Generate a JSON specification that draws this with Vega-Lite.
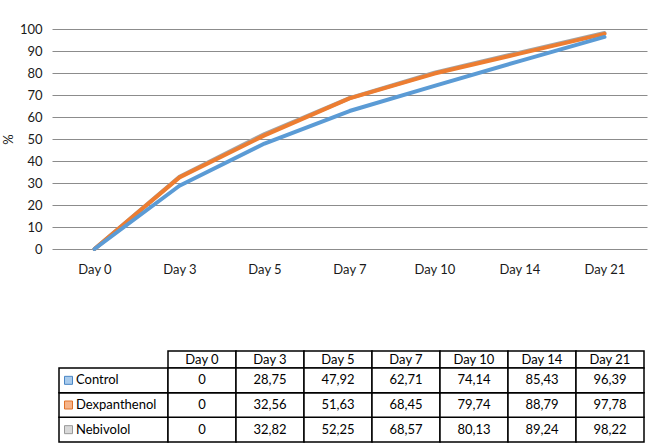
{
  "$schema": "https://vega.github.io/schema/vega-lite/v6.json",
  "padding": {"left": 2, "top": 23, "right": 5, "bottom": 2},
  "config": {
    "font": "Lato",
    "view": {"stroke": null},
    "locale": {
      "number": {"decimal": ",", "thousands": ".", "grouping": [3], "currency": ["", "€"]}
    },
    "axis": {"labelFont": "Lato", "labelFontSize": 13, "labelColor": "#1a1a1a", "titleFont": "Lato"},
    "text": {"font": "Lato", "fontSize": 13, "color": "#000"}
  },
  "datasets": {
    "vals": [
      {"series": "Nebivolol", "day": "Day 0", "value": 0},
      {"series": "Nebivolol", "day": "Day 3", "value": 32.82},
      {"series": "Nebivolol", "day": "Day 5", "value": 52.25},
      {"series": "Nebivolol", "day": "Day 7", "value": 68.57},
      {"series": "Nebivolol", "day": "Day 10", "value": 80.13},
      {"series": "Nebivolol", "day": "Day 14", "value": 89.24},
      {"series": "Nebivolol", "day": "Day 21", "value": 98.22},
      {"series": "Dexpanthenol", "day": "Day 0", "value": 0},
      {"series": "Dexpanthenol", "day": "Day 3", "value": 32.56},
      {"series": "Dexpanthenol", "day": "Day 5", "value": 51.63},
      {"series": "Dexpanthenol", "day": "Day 7", "value": 68.45},
      {"series": "Dexpanthenol", "day": "Day 10", "value": 79.74},
      {"series": "Dexpanthenol", "day": "Day 14", "value": 88.79},
      {"series": "Dexpanthenol", "day": "Day 21", "value": 97.78},
      {"series": "Control", "day": "Day 0", "value": 0},
      {"series": "Control", "day": "Day 3", "value": 28.75},
      {"series": "Control", "day": "Day 5", "value": 47.92},
      {"series": "Control", "day": "Day 7", "value": 62.71},
      {"series": "Control", "day": "Day 10", "value": 74.14},
      {"series": "Control", "day": "Day 14", "value": 85.43},
      {"series": "Control", "day": "Day 21", "value": 96.39}
    ]
  },
  "bounds": "flush",
  "spacing": 102,
  "vconcat": [
    {
      "width": 595,
      "height": 220,
      "data": {"name": "vals"},
      "mark": {"type": "line", "strokeCap": "round", "strokeJoin": "round"},
      "encoding": {
        "x": {
          "field": "day",
          "type": "ordinal",
          "scale": {
            "type": "point",
            "domain": ["Day 0", "Day 3", "Day 5", "Day 7", "Day 10", "Day 14", "Day 21"],
            "padding": 0.5
          },
          "axis": {"title": null, "domain": false, "ticks": false, "grid": false, "labelAngle": 0, "labelPadding": 14}
        },
        "y": {
          "field": "value",
          "type": "quantitative",
          "scale": {"domain": [0, 100]},
          "axis": {
            "title": "%",
            "titleFontSize": 13,
            "titleFontWeight": "normal",
            "titleColor": "#1a1a1a",
            "titlePadding": 4,
            "values": [0, 10, 20, 30, 40, 50, 60, 70, 80, 90, 100],
            "domain": false,
            "ticks": false,
            "labelPadding": 10,
            "gridColor": "#8c8c8c",
            "gridOpacity": 1
          }
        },
        "color": {
          "field": "series",
          "type": "nominal",
          "scale": {
            "domain": ["Control", "Dexpanthenol", "Nebivolol"],
            "range": ["#5b9bd5", "#ed7d31", "#a5a5a5"]
          },
          "legend": null
        },
        "strokeWidth": {
          "field": "series",
          "type": "nominal",
          "scale": {"domain": ["Control", "Dexpanthenol", "Nebivolol"], "range": [4, 4, 6.5]},
          "legend": null
        }
      }
    },
    {
      "columns": 3,
      "spacing": 0,
      "align": "each",
      "bounds": "flush",
      "concat": [
        {
          "width": 7,
          "height": 17,
          "data": {"values": [{}]},
          "mark": {"type": "text", "text": ""}
        },
        {
          "width": 109,
          "height": 17,
          "data": {"values": [{}]},
          "mark": {"type": "text", "text": ""}
        },
        {
          "width": 476,
          "height": 17,
          "data": {"name": "vals"},
          "transform": [{"filter": "datum.series == 'Control'"}],
          "encoding": {
            "x": {
              "field": "day",
              "type": "nominal",
              "scale": {
                "type": "band",
                "domain": ["Day 0", "Day 3", "Day 5", "Day 7", "Day 10", "Day 14", "Day 21"],
                "paddingInner": 0,
                "paddingOuter": 0
              },
              "axis": null
            }
          },
          "layer": [
            {"mark": {"type": "rect", "fill": "#fff", "stroke": "#000", "strokeWidth": 1.5}},
            {"mark": {"type": "text"}, "encoding": {"text": {"field": "day"}}}
          ]
        },
        {
          "width": 7,
          "height": 74,
          "data": {"values": [{}]},
          "mark": {"type": "text", "text": ""}
        },
        {
          "width": 109,
          "height": 74,
          "data": {"name": "vals"},
          "transform": [{"filter": "datum.day == 'Day 0'"}],
          "encoding": {
            "y": {
              "field": "series",
              "type": "nominal",
              "scale": {
                "type": "band",
                "domain": ["Control", "Dexpanthenol", "Nebivolol"],
                "paddingInner": 0,
                "paddingOuter": 0
              },
              "axis": null
            }
          },
          "layer": [
            {"mark": {"type": "rect", "fill": "#fff", "stroke": "#000", "strokeWidth": 1.5}},
            {
              "mark": {"type": "point", "shape": "square", "size": 64, "filled": true, "strokeWidth": 1, "xOffset": -45, "opacity": 1},
              "encoding": {
                "fill": {
                  "field": "series",
                  "type": "nominal",
                  "scale": {"domain": ["Control", "Dexpanthenol", "Nebivolol"], "range": ["#a9cbec", "#f6b48a", "#d9d9d9"]},
                  "legend": null
                },
                "stroke": {
                  "field": "series",
                  "type": "nominal",
                  "scale": {"domain": ["Control", "Dexpanthenol", "Nebivolol"], "range": ["#4a86c5", "#e0722a", "#999999"]},
                  "legend": null
                }
              }
            },
            {
              "mark": {"type": "text", "align": "left", "dx": -37.5},
              "encoding": {"text": {"field": "series"}}
            }
          ]
        },
        {
          "width": 476,
          "height": 74,
          "data": {"name": "vals"},
          "encoding": {
            "x": {
              "field": "day",
              "type": "nominal",
              "scale": {
                "type": "band",
                "domain": ["Day 0", "Day 3", "Day 5", "Day 7", "Day 10", "Day 14", "Day 21"],
                "paddingInner": 0,
                "paddingOuter": 0
              },
              "axis": null
            },
            "y": {
              "field": "series",
              "type": "nominal",
              "scale": {
                "type": "band",
                "domain": ["Control", "Dexpanthenol", "Nebivolol"],
                "paddingInner": 0,
                "paddingOuter": 0
              },
              "axis": null
            }
          },
          "layer": [
            {"mark": {"type": "rect", "fill": "#fff", "stroke": "#000", "strokeWidth": 1.5}},
            {"mark": {"type": "text"}, "encoding": {"text": {"field": "value", "type": "quantitative", "format": ".2~f"}}}
          ]
        }
      ]
    }
  ]
}
